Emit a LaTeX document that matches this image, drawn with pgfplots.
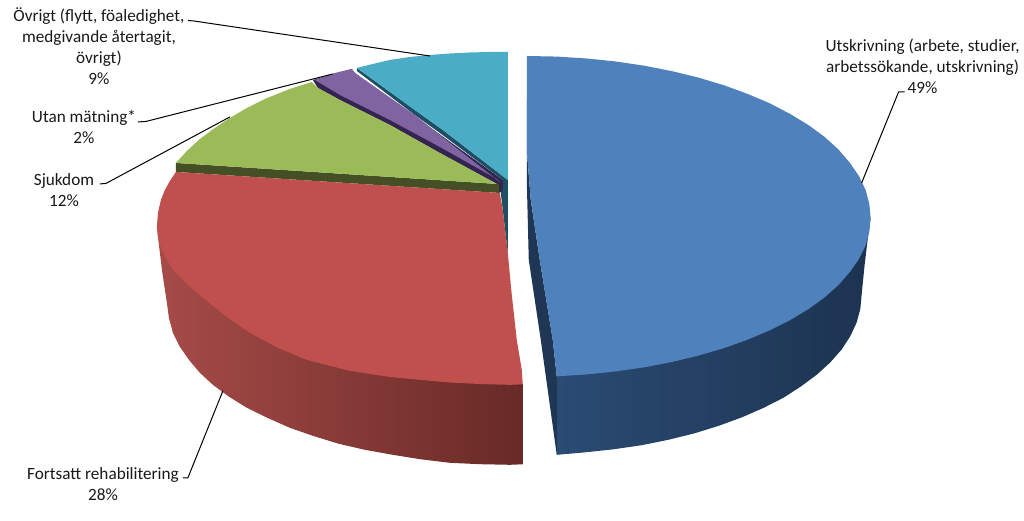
\documentclass[border=0pt]{standalone}
\usepackage{pgfplots}
\pgfplotsset{compat=1.18}
\usepackage{fontspec}
\setmainfont{Carlito}

\definecolor{blueTop}{HTML}{4F81BD}
\definecolor{blueIn}{HTML}{1F3655}
\definecolor{blueL}{HTML}{2B4B73}
\definecolor{blueR}{HTML}{1C3350}
\definecolor{redTop}{HTML}{C0504D}
\definecolor{redL}{HTML}{A64B48}
\definecolor{redR}{HTML}{682A27}
\definecolor{greenTop}{HTML}{9BBB59}
\definecolor{greenIn}{HTML}{444F24}
\definecolor{purpleTop}{HTML}{8064A2}
\definecolor{purpleIn}{HTML}{33254F}
\definecolor{tealTop}{HTML}{4BACC6}
\definecolor{tealIn}{HTML}{1D4F64}

\tikzset{lbl/.style={align=center, text=black!90, font=\fontsize{12.9}{15.75}\selectfont}}

\begin{document}
\begin{tikzpicture}
\begin{axis}[
	scale only axis,
	width=768pt, height=390.75pt,
	xmin=0, xmax=1024,
	ymin=0, ymax=521,
	y dir=reverse,
	hide axis,
	clip=false,
	every axis plot/.append style={no markers},
]
% page corners, keeps the bounding box
\addplot[draw=none] coordinates {(0,0) (1024,521)};

% side walls
\addplot[draw=none, left color=redL, right color=redR] coordinates {
	(157,227) (159,245) (162,270) (165,290) (167,303) (169,318) (173,333) (180,347) (189,360)
	(200,373) (213,385) (229,396.8) (247,408) (267.5,418) (290,428) (313,436) (339,444)
	(365,450) (393,455) (421,459.5) (450,463) (480,464.4) (510,465) (523,464.5) (523,384)
} -- cycle;
\addplot[draw=none, left color=blueL, right color=blueR] coordinates {
	(557,455) (585,452.6) (613.7,449.5) (642,445.4) (668.6,440) (694.5,433.6) (719,426) (742,417.6)
	(764,408) (784,397.8) (801,386.8) (817,375) (830.6,362.6) (842,349.7) (850.6,336.4) (857,322.8)
	(860.7,309) (862,295) (865,265) (868,240) (871,218) (557,376.5)
} -- cycle;
\addplot[draw=none, fill=blueIn] coordinates {
	(527,100) (527,180) (529,260) (541,340) (557,455) (557,376.5) (553,340) (540,260) (531,200) (527,150)
} -- cycle;
\addplot[draw=none, fill=purpleIn] coordinates {
	(313,80) (318,88) (340,100) (390,125) (440,153) (497,184) (498,193) (503,192)
	(503,180) (355,73) (352,69)
} -- cycle;
\addplot[draw=none, fill=tealIn] coordinates {
	(357,68) (415,110) (443,130) (508,180) (508,253) (503,210) (501,193) (503,190) (503,180)
	(440,133) (415,115) (357,71)
} -- cycle;
\addplot[draw=none, fill=greenIn] coordinates {
	(176,163) (176,172) (499,193) (499,184) (497,184)
} -- cycle;

% top faces
\addplot[draw=none, fill=tealTop] coordinates {
	(357,68) (373,64) (390,60) (410,57) (430,55) (450,53.5) (470,52.5) (490,52) (508,52)
	(508,180) (443,130) (415,110)
} -- cycle;
\addplot[draw=none, fill=purpleTop] coordinates {
	(315,80) (335,73) (352,69) (355,73) (415,115) (440,135) (500,182) (497,179) (440,147)
	(390,120) (340,95)
} -- cycle;
\addplot[draw=none, fill=greenTop] coordinates {
	(176,163) (187,151) (200,139) (215,128) (230,118) (247,108) (265,99) (290,89) (312,82)
	(318,88) (340,100) (390,125) (440,153) (497,184)
} -- cycle;
\addplot[draw=none, fill=redTop] coordinates {
	(500,193) (176,172) (170,181) (165,190) (161,200) (158,213) (157,227) (158,237) (160,245)
	(166,258) (173,270) (189,286) (207,301) (228,318) (250,333) (278,348) (307,360) (350,371)
	(389,377) (420,380) (449,382.6) (480,384.2) (510,385) (523,384.5)
	(522,370) (517,340) (512,295) (508,253) (503,210)
} -- cycle;
\addplot[draw=none, fill=blueTop] coordinates {
	(527,56) (557,56.6) (587,58.5) (616,61.5) (645,65.8) (672.4,71.2) (699,77.7) (724.3,85.3)
	(748,94) (770.2,103.4) (790.5,114) (808.8,125.1) (825,137) (838.8,149.5) (850,162.6)
	(859.3,176.1) (866,190) (869.7,203.9) (871,218) (869.7,231.9) (866,245.6) (859.3,259.2)
	(850,272.4) (838.8,285.2) (825,297.5) (808.8,309.2) (790.5,320.2) (770.2,330.4) (748,339.8)
	(724.3,348.3) (699,355.7) (672.4,362.1) (645,367.4) (616,371.6) (587,374.6) (557,376.5)
	(553,340) (540,260) (531,200) (527,150)
} -- cycle;

% leader lines
\addplot[black, line width=0.75pt] coordinates {(188,20.5) (194,21) (430,56)};
\addplot[black, line width=0.75pt] coordinates {(138,122) (146,121.5) (333,74)};
\addplot[black, line width=0.75pt] coordinates {(100,184) (106,183.5) (230,117)};
\addplot[black, line width=0.75pt] coordinates {(183,478) (188,478) (223,391)};
\addplot[black, line width=0.75pt] coordinates {(905,92) (899,92) (862,183)};

% labels
\node[lbl] at (axis cs:99,46) {Övrigt (flytt, föaledighet,\\medgivande återtagit,\\övrigt)\\9\%};
\node[lbl] at (axis cs:84,127) {Utan mätning*\\2\%};
\node[lbl] at (axis cs:64,190) {Sjukdom\\12\%};
\node[lbl] at (axis cs:103,484) {Fortsatt rehabilitering\\28\%};
\node[lbl] at (axis cs:923,66) {Utskrivning (arbete, studier,\\arbetssökande, utskrivning)\\49\%};
\end{axis}
\end{tikzpicture}
\end{document}
